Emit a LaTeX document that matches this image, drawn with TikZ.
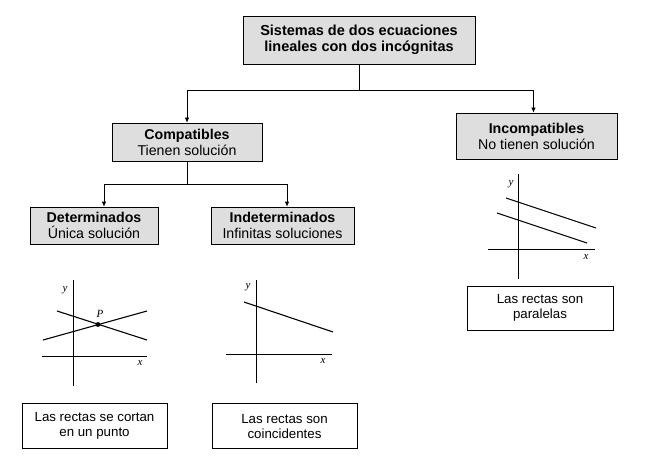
\documentclass[tikz,border=0pt]{standalone}
\usepackage{fontspec}
\setmainfont{Liberation Sans}
\newfontfamily\axfont{Liberation Serif}
\usetikzlibrary{arrows.meta,positioning}

\begin{document}
\begin{tikzpicture}[x=1pt,y=-1pt,>={Latex[length=5pt,width=4.5pt]},line width=0.7pt,
  head/.style={draw,fill=black!13,align=center,inner sep=2pt,font=\fontsize{14.2}{16}\selectfont},
  note/.style={draw,fill=white,align=center,inner sep=2pt,minimum width=145pt,minimum height=45pt,font=\fontsize{13.3}{15}\selectfont},
  axis/.style={line width=0.6pt},
  recta/.style={line width=1.1pt},
  lbl/.style={font=\axfont\itshape\fontsize{11}{12}\selectfont,inner sep=0pt}]
  \useasboundingbox (0,0) rectangle (668,465);
  % cajas
  \node[head,minimum width=232pt,minimum height=48pt,font=\bfseries\fontsize{14.5}{16.5}\selectfont] (S) at (359,40)
    {Sistemas de dos ecuaciones\\lineales con dos incógnitas};
  \node[head,minimum width=150pt,minimum height=38pt] (C) at (187,142) {\textbf{Compatibles}\\Tienen solución};
  \node[head,minimum width=161pt,minimum height=46pt] (I) at (536.5,136) {\textbf{Incompatibles}\\No tienen solución};
  \node[head,minimum width=128pt,minimum height=37pt] (D) at (94,225.5) {\textbf{Determinados}\\Única solución};
  \node[head,minimum width=143pt,minimum height=37pt] (N) at (282.5,225.5) {\textbf{Indeterminados}\\Infinitas soluciones};
  \node[note] (D1) at (94.5,426) {Las rectas se cortan\\en un punto};
  \node[note] (N1) at (284.5,426) {Las rectas son\\coincidentes};
  \node[note,minimum width=146pt,minimum height=44pt] (I1) at (540,308) {Las rectas son\\paralelas};
  \coordinate (s1) at (S.south |- 0,90);
  \coordinate (s2) at (C.south |- 0,184);
  \draw (S.south) -- (s1);
  \draw[->] (s1) -| (C.north);
  \draw[->] (s1) -| ([xshift=-3pt]I.north);
  \draw (C.south) -- (s2);
  \draw[->] (s2) -| ([xshift=10pt]D.north);
  \draw[->] (s2) -| ([xshift=4.5pt]N.north);

  % una solucion
  \draw[axis] (73,280) -- (73,386);
  \draw[axis] (42,356) -- (147,356);
  \node[lbl] (yD) at (65,290) {y};
  \node[lbl] (xD) at (140,363) {x};
  \draw[recta] (57,311) -- (147,340);
  \draw[recta] (43,340) -- (147,311);
  \fill (98,324.5) circle (2.4pt);
  \node[lbl] (P) at (100,314) {P};

  % infinitas soluciones
  \draw[axis] (256,280) -- (256,383);
  \draw[axis] (226,354) -- (332,354);
  \node[lbl] (yN) at (248,287) {y};
  \node[lbl] (xN) at (323,361) {x};
  \draw[recta] (244,302) -- (333,332);

  % sin solucion
  \draw[axis] (518,174) -- (518,279);
  \draw[axis] (488,249) -- (595,249);
  \node[lbl] (yI) at (511,184) {y};
  \node[lbl] (xI) at (586,257) {x};
  \draw[recta] (506,198) -- (596,228);
  \draw[recta] (497,213) -- (587,243);
\end{tikzpicture}
\end{document}
